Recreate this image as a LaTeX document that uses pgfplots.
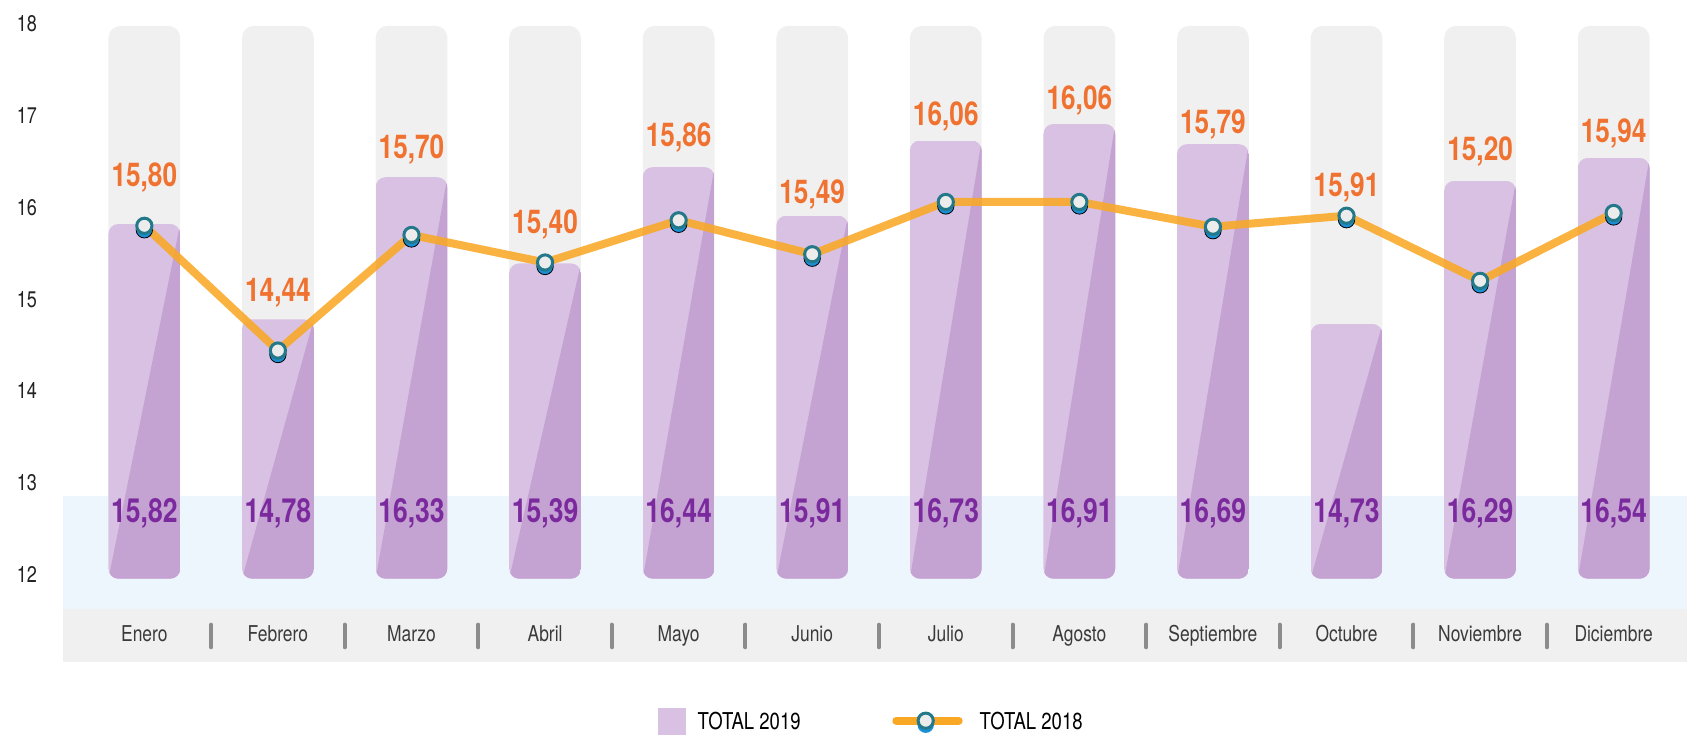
\documentclass[border=0pt]{standalone}
\usepackage{fontspec}
\setmainfont{TeX Gyre Heros}[FakeStretch=0.8]
\usepackage{pgfplots}
\usepackage{pgfplotstable}
\pgfplotsset{compat=1.18}

\definecolor{bggray}{HTML}{F0F0F0}
\definecolor{bandblue}{HTML}{EEF6FD}
\definecolor{barlight}{HTML}{D9C1E3}
\definecolor{bardark}{HTML}{C4A2D2}
\definecolor{purpletext}{HTML}{7B2A9E}
\definecolor{orangetext}{HTML}{F07230}
\definecolor{lineorange}{HTML}{F9A825}
\definecolor{markfill}{HTML}{ECECEC}
\definecolor{tealc}{HTML}{23798A}
\definecolor{shadowblue}{HTML}{1A8FD3}
\definecolor{monthc}{HTML}{3A3A3A}
\definecolor{tickc}{HTML}{222222}
\definecolor{sepc}{HTML}{8C8C8C}

% x: month index; v19: TOTAL 2019; v18: TOTAL 2018
% base/top: bar baseline and background-bar top; ly18/lp19: label heights
\pgfplotstableread{
x  v19   v18   base   top   ly18   lp19
0  15.82 15.80 11.952 17.98 16.354 12.69
1  14.78 14.44 11.952 17.98 15.100 12.69
2  16.33 15.70 11.952 17.98 16.662 12.69
3  15.39 15.40 11.952 17.98 15.845 12.69
4  16.44 15.86 11.952 17.98 16.790 12.69
5  15.91 15.49 11.952 17.98 16.165 12.69
6  16.73 16.06 11.952 17.98 17.015 12.69
7  16.91 16.06 11.952 17.98 17.190 12.69
8  16.69 15.79 11.952 17.98 16.935 12.69
9  14.73 15.91 11.952 17.98 16.245 12.69
10 16.29 15.20 11.952 17.98 16.634 12.69
11 16.54 15.94 11.952 17.98 16.833 12.69
}\data

% separators between month labels (segments, split by nan rows)
\pgfplotstableread{
sx   sy
0.5  11.204
0.5  11.451
nan  nan
1.5  11.204
1.5  11.451
nan  nan
2.5  11.204
2.5  11.451
nan  nan
3.5  11.204
3.5  11.451
nan  nan
4.5  11.204
4.5  11.451
nan  nan
5.5  11.204
5.5  11.451
nan  nan
6.5  11.204
6.5  11.451
nan  nan
7.5  11.204
7.5  11.451
nan  nan
8.5  11.204
8.5  11.451
nan  nan
9.5  11.204
9.5  11.451
nan  nan
10.5 11.204
10.5 11.451
}\seps

% one y unit = 330.85pt / 7.215 = 45.8558pt ; bar half width = 17.94pt
\pgfdeclareplotmark{pbar}{%
  \pgfmathsetmacro\hh{\barh*45.8558}%
  \begin{scope}
    \path[clip, draw=none, rounded corners=5pt] (-17.94pt,-\hh pt) rectangle (17.94pt,0pt);
    \fill[barlight, draw=none] (-17.94pt,-\hh pt) rectangle (17.94pt,0pt);
    \fill[bardark, draw=none] (-17.94pt,-\hh pt) -- (17.94pt,-\hh pt) -- (17.94pt,0pt) -- cycle;
  \end{scope}
}

\pgfplotsset{
  frame/.style={
    at={(31.5pt,36.65pt)}, anchor=south west, scale only axis,
    width=812pt, height=330.85pt,
    xmin=-0.609, xmax=11.549, ymin=11.047, ymax=18.262,
    axis line style={draw=none}, tick style={draw=none},
    clip bounding box=upper bound,
  },
  numlab/.style={
    /pgf/number format/use comma,
    /pgf/number format/fixed,
    /pgf/number format/fixed zerofill,
    /pgf/number format/precision=2,
    /pgf/number format/assume math mode=true,
  },
}

\begin{document}
\begin{tikzpicture}
\path[use as bounding box] (0pt,0pt) rectangle (843.5pt,367.5pt);

% ---------- axis 1: bands, background bars, ticks ----------
\begin{axis}[frame, ybar stacked, bar width=0.537, axis on top,
  ytick={12,13,14,15,16,17,18},
  /pgf/number format/assume math mode=true,
  yticklabel style={anchor=east, inner sep=0pt, xshift=-12.85pt,
    font=\fontsize{11.3}{13}\selectfont, text=tickc},
  xtick={0,1,2,3,4,5,6,7,8,9,10,11},
  xticklabels={Enero,Febrero,Marzo,Abril,Mayo,Junio,Julio,Agosto,Septiembre,Octubre,Noviembre,Diciembre},
  xticklabel style={anchor=center, yshift=14.2pt, inner sep=0pt,
    text height=7.8pt, text depth=0pt,
    font=\fontsize{10.9}{13}\selectfont, text=monthc},
]
\fill[bggray] (axis cs:-0.609,11.047) rectangle (axis cs:11.549,11.619);
\fill[bandblue] (axis cs:-0.609,11.619) rectangle (axis cs:11.549,12.854);
\addplot[draw=none, fill=none, forget plot] table[x=x, y=base] {\data};
\addplot[fill=bggray, draw=none, rounded corners=6pt]
  table[x=x, y expr=\thisrow{top}-\thisrow{base}] {\data};
\end{axis}

% ---------- axis 2: TOTAL 2019 bars ----------
\begin{axis}[frame, hide axis, clip=false]
\addplot[only marks, mark=pbar, draw=none, mark options={draw=none},
  visualization depends on={\thisrow{v19}-\thisrow{base} \as \barh}]
  table[x=x, y=v19] {\data};
\end{axis}

% ---------- axis 3: separators, TOTAL 2018 line, markers, value labels ----------
\begin{axis}[frame, hide axis, clip=false, numlab]
\addplot[sepc, line width=2pt, line cap=round, mark=none, unbounded coords=jump]
  table[x=sx, y=sy] {\seps};
\addplot[lineorange, line width=4pt, opacity=0.88, line join=round, mark=none]
  table[x=x, y=v18] {\data};
\addplot[only marks, mark=*, mark size=4.1pt,
  mark options={fill=shadowblue, draw=none, yshift=-2pt}]
  table[x=x, y=v18] {\data};
\addplot[only marks, mark=*, mark size=3.8pt,
  mark options={fill=markfill, draw=tealc, line width=1.5pt}]
  table[x=x, y=v18] {\data};
% orange labels (2018)
\addplot[draw=none, mark=none, nodes near coords, point meta=explicit,
  nodes near coords align=center,
  every node near coord/.append style={anchor=center, inner sep=0pt,
    text height=11.6pt, text depth=0pt,
    font=\fontsize{16.4}{18}\selectfont\bfseries, text=orangetext}]
  table[x=x, y=ly18, meta=v18] {\data};
% purple labels (2019)
\addplot[draw=none, mark=none, nodes near coords, point meta=explicit,
  nodes near coords align=center,
  every node near coord/.append style={anchor=center, inner sep=0pt,
    text height=11.6pt, text depth=0pt,
    font=\fontsize{16.6}{18}\selectfont\bfseries, text=purpletext}]
  table[x=x, y=lp19, meta=v19] {\data};
\end{axis}

% ---------- legend ----------
\fill[barlight] (329.15pt,0pt) rectangle (342.85pt,13.35pt);
\node[anchor=west, inner sep=0pt, font=\fontsize{11.6}{13}\selectfont, text=black]
  at (348.65pt,6.75pt) {TOTAL 2019};
\draw[lineorange, line width=4pt, line cap=round] (448.15pt,7.15pt) -- (479.35pt,7.15pt);
\fill[shadowblue] (462.85pt,5.15pt) circle (4.1pt);
\draw[tealc, fill=markfill, line width=1.5pt] (462.85pt,7.15pt) circle (3.8pt);
\node[anchor=west, inner sep=0pt, font=\fontsize{11.6}{13}\selectfont, text=black]
  at (489.65pt,6.75pt) {TOTAL 2018};
\end{tikzpicture}
\end{document}
